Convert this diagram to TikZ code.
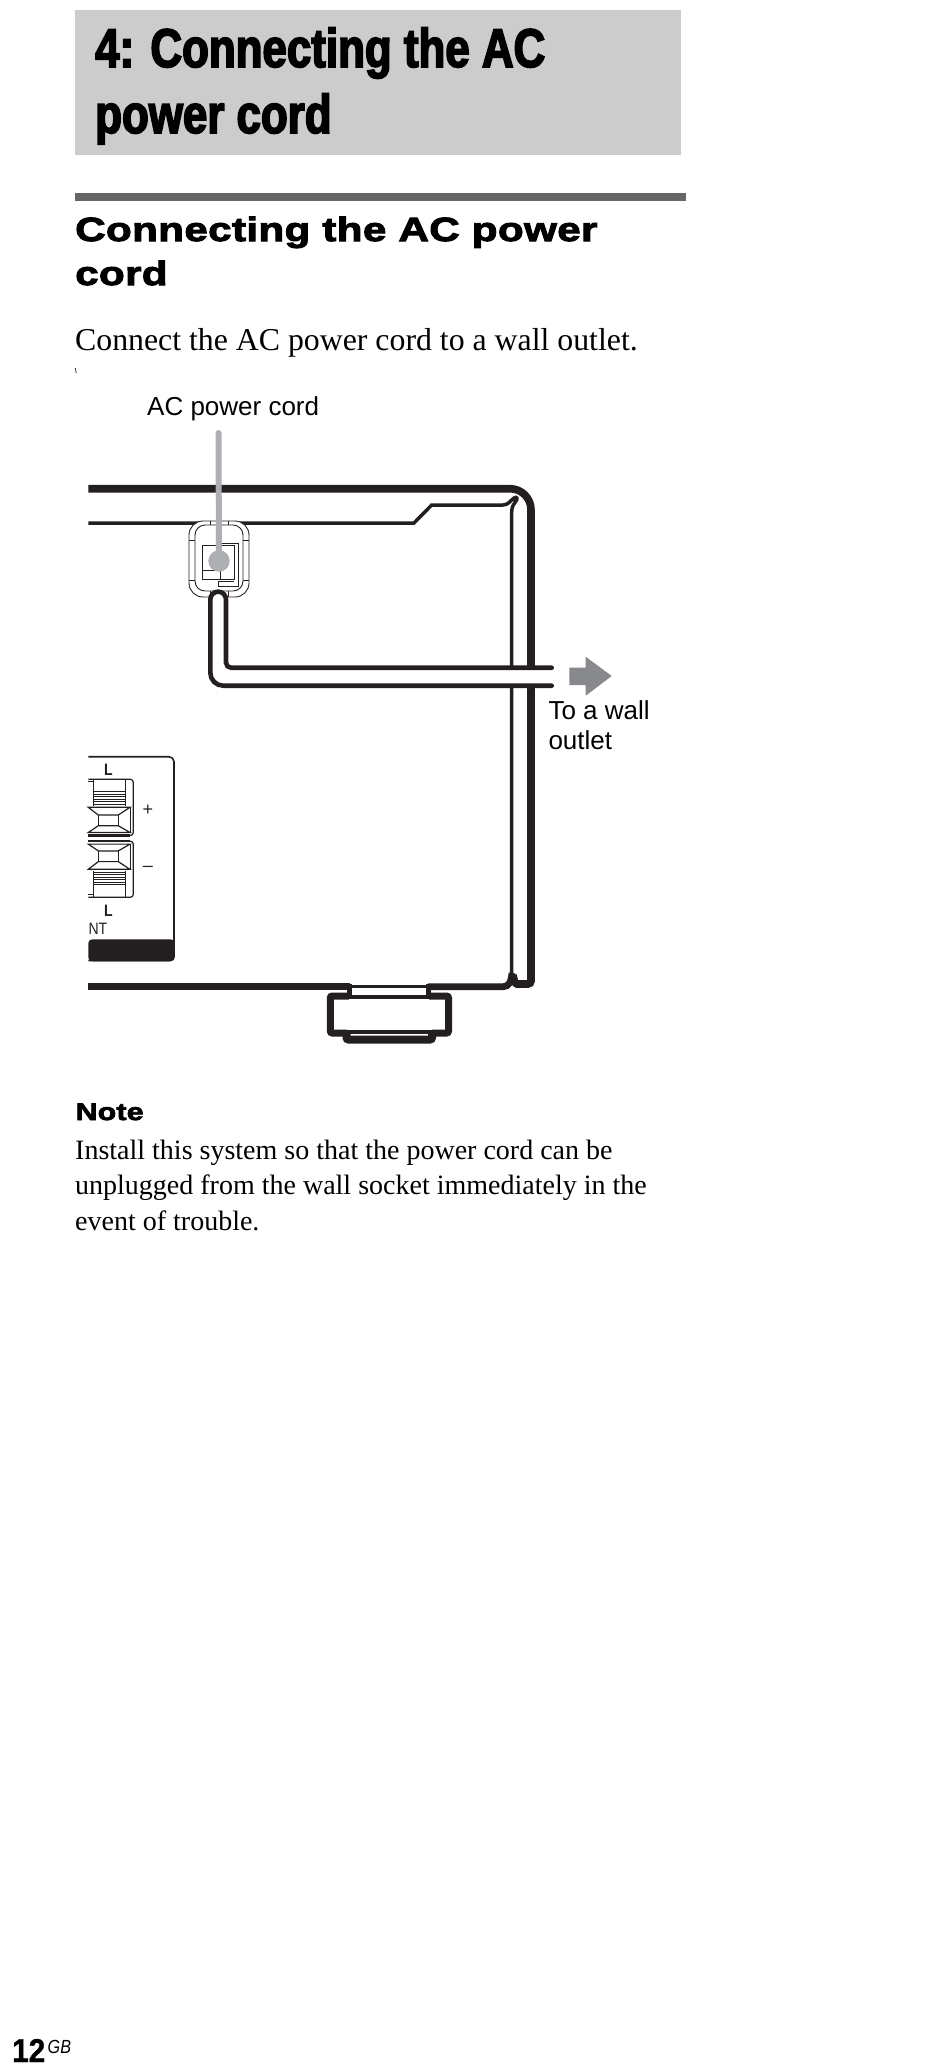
\documentclass[tikz,border=0pt]{standalone}
\usepackage{fontspec}
\usepackage{tikz}
\setmainfont{Liberation Serif}
\newfontfamily\titlefont[FakeStretch=.805,FakeBold=3]{Liberation Sans}
\newfontfamily\headfont[FakeStretch=1.26,FakeBold=3,LetterSpace=1]{Liberation Sans}
\newfontfamily\labelfont{Liberation Sans}
\newfontfamily\panelfont[FakeStretch=.85]{Liberation Sans}
\newfontfamily\pagefont[FakeStretch=.9,FakeBold=1]{Liberation Sans}
\definecolor{titlegrey}{HTML}{CCCCCC}
\definecolor{rulegrey}{HTML}{666666}
\definecolor{leadgrey}{HTML}{ADAFB2}
\definecolor{arrowgrey}{HTML}{88898C}
\definecolor{inkblack}{HTML}{231F20}
\tikzset{
  thickline/.style={draw=inkblack,line width=7.6pt},
  midline/.style={draw=inkblack,line width=3.5pt},
  cordline/.style={draw=inkblack,line width=4.6pt,line cap=round},
  thinline/.style={draw=inkblack,line width=.9pt},
  panelline/.style={draw=inkblack,line width=1.2pt},
  titletext/.style={anchor=base west,align=left,font=\titlefont\bfseries\fontsize{54.5}{66}\selectfont},
  headtext/.style={anchor=base west,align=left,font=\headfont\bfseries\fontsize{33.5}{44}\selectfont},
  bodytext/.style={anchor=base west,align=left},
  labeltext/.style={anchor=base west,align=left,text=black,font=\labelfont\fontsize{26}{30.3}\selectfont},
  smalltext/.style={text=inkblack,font=\panelfont\fontsize{16.5}{18}\selectfont},
}

\begin{document}
\begin{tikzpicture}[x=1pt,y=1pt]
\tikzstyle{every node}+=[inner sep=0pt]
\useasboundingbox (0,0) rectangle (950,-2065);

\fill [titlegrey] (75,-10) rectangle (681,-155);
\node [titletext] (title) at (95,-133) {4: Connecting the AC\\power cord};
\fill [rulegrey] (75,-192.7) rectangle (686,-201);
\node [headtext] (heading) at (75,-285) {Connecting the AC power\\cord};
\node [bodytext,font=\fontsize{31.8}{36}\selectfont] (intro) at (75,-350) {Connect the AC power cord to a wall outlet.};
\draw [inkblack,line width=.7pt] (75.3,-368) -- (76.3,-373);
\node [labeltext] (cordlabel) at (147,-415) {AC power cord};

% cabinet
\draw [thickline,rounded corners=21] (88.3,-488.7) -- (531,-488.7) -- (531,-700);
\draw [thickline,rounded corners=3] (531,-700) -- (531,-984) -- (520,-984) .. controls (515,-984) and (514,-980) .. (513,-975);
\draw [midline] (88.3,-523) -- (414,-523) -- (431.7,-505) -- (503,-505) .. controls (508,-505) and (510,-501) .. (514,-498) .. controls (517,-496) and (518,-499) .. (516,-501) .. controls (514,-504) and (511.7,-506) .. (511.7,-512) -- (511.7,-975);
\draw [thickline,line width=6.7pt] (88.3,-986.7) -- (350,-986.7);
\draw [thickline,line width=6.7pt] (428,-986.7) -- (503,-986.7) .. controls (509,-986.7) and (511,-982) .. (512,-973);

% foot
\draw [midline] (350,-986.7) -- (428,-986.7);
\draw [midline] (350,-997) -- (428,-997);
\draw [inkblack,line width=5pt] (349.5,-984) -- (349.5,-999);
\draw [inkblack,line width=5pt] (428.5,-984) -- (428.5,-999);
\draw [thickline,line width=7pt,rounded corners=2] (349,-996) -- (330.3,-996) -- (330.3,-1033) -- (347,-1033);
\draw [thickline,line width=7pt,rounded corners=2] (429,-996) -- (448.5,-996) -- (448.5,-1033) -- (432,-1033);
\draw [midline] (347,-1032) -- (432,-1032);
\draw [inkblack,line width=8pt,rounded corners=2] (346.5,-1033) -- (346.5,-1039.5) -- (432,-1039.5) -- (432,-1033);

% speaker terminals
\draw [panelline,line width=1.6pt,rounded corners=5] (88.3,-756.7) -- (174,-756.7) -- (174,-960.5) -- (88.3,-960.5);
\fill [inkblack,rounded corners=4] (174.8,-939.3) -- (174.8,-961.3) -- (88.3,-961.3) -- (88.3,-939.3) -- cycle;
\foreach \clipflip in {1,-1}{
\begin{scope}[yshift={(\clipflip-1)*838.3pt},yscale=\clipflip]
\draw [panelline,rounded corners=3] (88.3,-779.3) -- (133.3,-779.3) -- (133.3,-835.5) -- (88.3,-835.5);
\draw [inkblack,line width=2.2pt] (88.3,-835.5) -- (130,-835.5);
\draw [thinline] (88.3,-781.7) -- (93.3,-781.7);
\draw [panelline] (93.3,-780) -- (93.3,-806);
\draw [thinline] (125.7,-780) -- (125.7,-806);
\foreach \stripey in {791.7,794.2,796.7,799.2,801.7,804.2}
  \draw [thinline] (93.3,-\stripey) -- (125.7,-\stripey);
\draw [panelline] (88.3,-807.3) -- (130,-807.3) -- (118.3,-815) -- (98.3,-815) -- cycle;
\draw [panelline] (88.3,-832.5) -- (130,-832.5) -- (118.3,-825.7) -- (98.3,-825.7) -- cycle;
\draw [panelline] (98.3,-815) -- (98.3,-825.7);
\draw [panelline] (118.3,-815) -- (118.3,-825.7);
\draw [thinline] (130,-807.3) -- (130,-832.5);
\end{scope}
}
\node [smalltext,font=\panelfont\bfseries\fontsize{16.5}{18}\selectfont,anchor=base] (ltop) at (108.3,-775) {L};
\node [smalltext,font=\panelfont\bfseries\fontsize{16.5}{18}\selectfont,anchor=base] (lbottom) at (108.3,-916.7) {L};
\node [smalltext,anchor=base west] (ntlabel) at (88.3,-934) {NT};
\node [smalltext,font=\labelfont\fontsize{18}{20}\selectfont] (plus) at (148,-810) {+};
\node [smalltext,font=\labelfont\fontsize{18}{20}\selectfont] (minus) at (148,-869) {–};

% socket
\draw [thinline,fill=white,rounded corners=14] (189,-521) rectangle (249,-597);
\draw [thinline,rounded corners=10] (195,-525) rectangle (243,-591);
\foreach \tickx in {210,228.3}{
  \draw [thinline] (\tickx,-521) -- (\tickx,-525);
  \draw [thinline] (\tickx,-591) -- (\tickx,-597);
}
\foreach \ticky in {540,580}{
  \draw [thinline] (189,-\ticky) -- (195,-\ticky);
  \draw [thinline] (243,-\ticky) -- (249,-\ticky);
}
\draw [thinline] (202.7,-545.7) rectangle (234,-579);
\draw [thinline] (218,-543.5) -- (238,-543.5) -- (238,-586) -- (218,-586) -- (218,-581.7) -- (234,-581.7);
\draw [thinline] (202.7,-570.7) -- (220,-570.7) -- (220,-579);

% cord
\coordinate (cordtopend) at (551.7,-667.7);
\coordinate (cordlowend) at (551.7,-685.7);
\coordinate (leadtop) at (218.5,-433);
\coordinate (plug) at (219,-561);
\fill [white] (231,-667.7) rectangle (cordlowend);
\fill [white] (210.3,-610) -- (210.3,-599.5) arc (180:0:7.85) -- (226,-610) -- cycle;
\draw [cordline] (cordlowend) {[rounded corners=13] -- (210.3,-685.7) -- (210.3,-640)} -- (210.3,-599.5) arc (180:0:7.85) {[rounded corners=5] -- (226,-667.7) -- (cordtopend)};

% leader
\draw [leadgrey,line width=6pt,line cap=round] (leadtop) -- (plug);
\fill [leadgrey] (plug) circle (10.7);

% arrow
\fill [arrowgrey] (569.3,-667.7) -- (585.7,-667.7) -- (585.7,-656.7) -- (611.7,-676) -- (585.7,-695.7) -- (585.7,-685) -- (569.3,-685) -- cycle;
\node [labeltext] (walllabel) at (548.3,-749.3) {To a wall\\outlet};

\node [anchor=base west,font=\headfont\bfseries\fontsize{24}{28}\selectfont] (notehead) at (75.5,-1120) {Note};
\node [bodytext,font=\fontsize{28}{35.5}\selectfont] (notebody) at (75,-1230) {Install this system so that the power cord can be\\unplugged from the wall socket immediately in the\\event of trouble.};

\node [anchor=base west,font=\pagefont\bfseries\fontsize{33}{36}\selectfont] (pagenum) at (12,-2062) {12};
\node [anchor=base west,font=\panelfont\itshape\fontsize{19}{22}\selectfont] (pagesuffix) at (47.5,-2053.3) {GB};
\end{tikzpicture}
\end{document}
